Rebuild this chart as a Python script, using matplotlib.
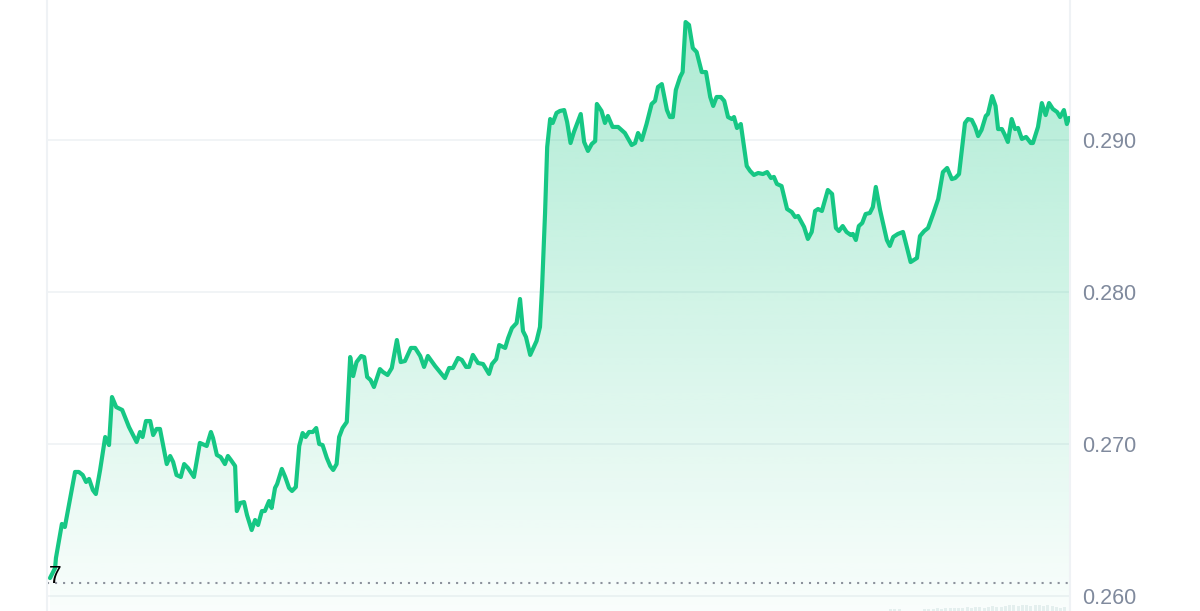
import numpy as np
import matplotlib
matplotlib.use("Agg")
import matplotlib.pyplot as plt
from matplotlib.colors import LinearSegmentedColormap

# ---------------- data ----------------
hours = [0.00, 0.12, 0.14, 0.28, 0.35, 0.59, 0.68, 0.77, 0.85, 0.92, 1.01, 1.08, 1.18, 1.30, 1.39,
         1.46, 1.56, 1.70, 1.86, 2.04, 2.12, 2.18, 2.26, 2.36, 2.43, 2.51, 2.59, 2.75, 2.83, 2.90,
         2.98, 3.08, 3.16, 3.25, 3.39, 3.53, 3.69, 3.79, 3.84, 3.93, 4.02, 4.12, 4.19, 4.26, 4.36,
         4.40, 4.48, 4.57, 4.64, 4.75, 4.83, 4.90, 4.99, 5.06, 5.16, 5.22, 5.30, 5.35, 5.46, 5.54,
         5.63, 5.70, 5.79, 5.87, 5.95, 6.02, 6.10, 6.19, 6.27, 6.34, 6.42, 6.52, 6.60, 6.67, 6.75,
         6.81, 6.89, 6.99, 7.07, 7.14, 7.22, 7.33, 7.40, 7.47, 7.55, 7.63, 7.77, 7.84, 7.95, 8.05,
         8.17, 8.26, 8.36, 8.50, 8.60, 8.72, 8.81, 8.90, 9.07, 9.30, 9.40, 9.49, 9.61, 9.70, 9.80,
         9.87, 9.96, 10.08, 10.20, 10.34, 10.41, 10.51, 10.58, 10.72, 10.79, 10.88, 10.99, 11.07,
         11.14, 11.21, 11.31, 11.46, 11.54, 11.59, 11.66, 11.71, 11.78, 11.84, 11.93, 12.01, 12.11,
         12.18, 12.26, 12.34, 12.50, 12.58, 12.67, 12.76, 12.84, 12.88, 12.99, 13.07, 13.14, 13.25,
         13.38, 13.54, 13.70, 13.78, 13.85, 13.94, 14.05, 14.17, 14.25, 14.32, 14.41, 14.53, 14.60,
         14.67, 14.74, 14.84, 14.90, 14.97, 15.05, 15.14, 15.23, 15.35, 15.45, 15.55, 15.62, 15.70,
         15.80, 15.88, 15.97, 16.06, 16.11, 16.18, 16.27, 16.41, 16.49, 16.58, 16.68, 16.79, 16.89,
         16.98, 17.05, 17.12, 17.23, 17.36, 17.47, 17.55, 17.62, 17.76, 17.85, 17.94, 18.02, 18.09,
         18.18, 18.32, 18.42, 18.51, 18.58, 18.67, 18.76, 18.86, 18.91, 18.98, 19.05, 19.13, 19.21,
         19.31, 19.38, 19.45, 19.55, 19.62, 19.71, 19.78, 19.86, 19.97, 20.09, 20.27, 20.42, 20.49,
         20.59, 20.68, 20.80, 20.92, 21.03, 21.13, 21.24, 21.32, 21.41, 21.55, 21.62, 21.71, 21.79,
         21.86, 21.94, 22.04, 22.09, 22.19, 22.27, 22.33, 22.42, 22.49, 22.56, 22.65, 22.73, 22.80,
         22.89, 22.99, 23.10, 23.15, 23.27, 23.36, 23.45, 23.53, 23.62, 23.72, 23.79, 23.88, 23.95,
         24.00]

prices = [0.26118, 0.26184, 0.26250, 0.26474, 0.26454, 0.26816, 0.26816, 0.26796, 0.26750, 0.26770,
          0.26697, 0.26671, 0.26829, 0.27046, 0.26993, 0.27309, 0.27243, 0.27224, 0.27112, 0.27013,
          0.27079, 0.27046, 0.27151, 0.27151, 0.27059, 0.27099, 0.27099, 0.26868, 0.26921, 0.26882,
          0.26796, 0.26783, 0.26868, 0.26842, 0.26783, 0.27007, 0.26987, 0.27079, 0.27039, 0.26928,
          0.26914, 0.26868, 0.26921, 0.26895, 0.26855, 0.26559, 0.26612, 0.26618, 0.26533, 0.26434,
          0.26500, 0.26467, 0.26559, 0.26559, 0.26625, 0.26579, 0.26711, 0.26737, 0.26836, 0.26783,
          0.26711, 0.26691, 0.26717, 0.26987, 0.27072, 0.27046, 0.27079, 0.27079, 0.27105, 0.27000,
          0.26993, 0.26908, 0.26855, 0.26829, 0.26868, 0.27046, 0.27105, 0.27145, 0.27572, 0.27447,
          0.27539, 0.27579, 0.27572, 0.27441, 0.27421, 0.27375, 0.27493, 0.27474, 0.27454, 0.27500,
          0.27684, 0.27539, 0.27546, 0.27632, 0.27632, 0.27579, 0.27507, 0.27579, 0.27513, 0.27434,
          0.27500, 0.27500, 0.27566, 0.27553, 0.27507, 0.27507, 0.27586, 0.27533, 0.27526, 0.27461,
          0.27526, 0.27559, 0.27651, 0.27632, 0.27697, 0.27763, 0.27796, 0.27954, 0.27743, 0.27704,
          0.27586, 0.27678, 0.27770, 0.28033, 0.28520, 0.28954, 0.29138, 0.29112, 0.29178, 0.29191,
          0.29197, 0.29118, 0.28980, 0.29053, 0.29171, 0.28987, 0.28928, 0.28974, 0.28993, 0.29237,
          0.29191, 0.29112, 0.29158, 0.29086, 0.29086, 0.29046, 0.28967, 0.28980, 0.29046, 0.29000,
          0.29105, 0.29237, 0.29257, 0.29349, 0.29368, 0.29197, 0.29151, 0.29151, 0.29329, 0.29414,
          0.29447, 0.29776, 0.29757, 0.29605, 0.29579, 0.29447, 0.29447, 0.29283, 0.29224, 0.29283,
          0.29283, 0.29257, 0.29151, 0.29138, 0.29151, 0.29079, 0.29105, 0.28829, 0.28796, 0.28770,
          0.28783, 0.28776, 0.28789, 0.28750, 0.28757, 0.28711, 0.28697, 0.28546, 0.28526, 0.28493,
          0.28500, 0.28428, 0.28349, 0.28395, 0.28533, 0.28546, 0.28533, 0.28671, 0.28645, 0.28421,
          0.28401, 0.28434, 0.28395, 0.28375, 0.28382, 0.28342, 0.28434, 0.28454, 0.28513, 0.28520,
          0.28559, 0.28691, 0.28539, 0.28454, 0.28342, 0.28303, 0.28362, 0.28382, 0.28395, 0.28197,
          0.28224, 0.28368, 0.28401, 0.28421, 0.28513, 0.28612, 0.28789, 0.28816, 0.28743, 0.28750,
          0.28776, 0.29112, 0.29138, 0.29132, 0.29086, 0.29026, 0.29066, 0.29158, 0.29171, 0.29289,
          0.29224, 0.29072, 0.29072, 0.29033, 0.28987, 0.29138, 0.29072, 0.29079, 0.29007, 0.29020,
          0.28980, 0.28980, 0.29086, 0.29243, 0.29164, 0.29243, 0.29204, 0.29184, 0.29151, 0.29197,
          0.29105, 0.29145]

y_ticks = [0.260, 0.270, 0.280, 0.290]
y_tick_labels = ["0.260", "0.270", "0.280", "0.290"]
open_price = 0.26086
open_label = "7"

vol_hours = [19.8, 19.9, 20.0, 20.6, 20.7, 20.8, 20.9, 21.0, 21.1, 21.2, 21.3, 21.4, 21.5, 21.6,
             21.7, 21.8, 21.9, 22.0, 22.1, 22.2, 22.3, 22.4, 22.5, 22.6, 22.7, 22.8, 22.9, 23.0,
             23.1, 23.2, 23.3, 23.4, 23.5, 23.6, 23.7, 23.8, 23.9]
volumes = [2, 2, 2, 2, 2, 2, 3, 2, 3, 4, 4, 3, 4, 5, 4, 5, 5, 4, 5, 6, 5, 5, 6, 7, 7, 6, 7, 7,
           6, 7, 7, 6, 7, 6, 5, 4, 5]

# ---------------- style ----------------
GREEN = "#16c784"
GRID = "#eff2f5"
TICK = "#808a9d"

W, H, DPI = 1200, 611, 100
fig = plt.figure(figsize=(W / DPI, H / DPI), dpi=DPI, facecolor="white")

left_px, right_px = 47, 1070
ax = fig.add_axes([left_px / W, 0.0, (right_px - left_px) / W, 1.0])
ax.set_facecolor("none")

per_px = 0.010 / 152.0
ymin = 0.260 - 15 * per_px
ymax = 0.260 + 596 * per_px
hr_per_px = 24.0 / 1019.0
xlim = (-3 * hr_per_px, 24.0 + 1 * hr_per_px)

t = np.array(hours)
p = np.array(prices)

# gradient fill under the line
fill = ax.fill_between(t, p, ymin, facecolor="none", edgecolor="none")
cmap = LinearSegmentedColormap.from_list(
    "g", [(22 / 255, 199 / 255, 132 / 255, 0.025), (22 / 255, 199 / 255, 132 / 255, 0.35)])
grad = np.linspace(0, 1, 256).reshape(-1, 1)
img = ax.imshow(grad, cmap=cmap, aspect="auto", origin="lower",
                extent=[t[0], t[-1], ymin, p.max()], zorder=1, interpolation="bilinear")
img.set_clip_path(fill.get_paths()[0], transform=ax.transData)
ax.set_xlim(*xlim)
ax.set_ylim(ymin, ymax)

# grid
for yt in y_ticks:
    ax.axhline(yt, color=GRID, lw=1.2, zorder=0.5)

# open price dotted line
ax.axhline(open_price, color="#8c929c", lw=1.5, ls=(0, (1.0, 2.85)),
           dash_capstyle="butt", zorder=2)
ax.text(-1.5 * hr_per_px, open_price, open_label,
        ha="left", va="baseline", fontsize=16.5, color="#000000",
        family="Liberation Sans", zorder=4)

# price line
ax.plot(t, p, color=GREEN, lw=3.0, solid_joinstyle="round", solid_capstyle="round", zorder=3)

# axes styling
for s in ["top", "bottom"]:
    ax.spines[s].set_visible(False)
for s in ["left", "right"]:
    ax.spines[s].set_color(GRID)
    ax.spines[s].set_linewidth(1.5)
ax.set_xticks([])
ax.yaxis.tick_right()
ax.set_yticks(y_ticks)
ax.set_yticklabels(y_tick_labels)
ax.tick_params(axis="y", length=0, pad=8.6, labelsize=15.5, labelcolor=TICK)
for lbl in ax.get_yticklabels():
    lbl.set_family("Liberation Sans")

# faint volume bars
vax = fig.add_axes([left_px / W, 0.0, (right_px - left_px) / W, 14 / H])
vax.set_xlim(xlim)
vax.set_ylim(0, 16)
vax.bar(vol_hours, volumes, width=0.07, color="#e4efee", edgecolor="none")
vax.axis("off")

fig.savefig("out.png", dpi=DPI, facecolor="white")
